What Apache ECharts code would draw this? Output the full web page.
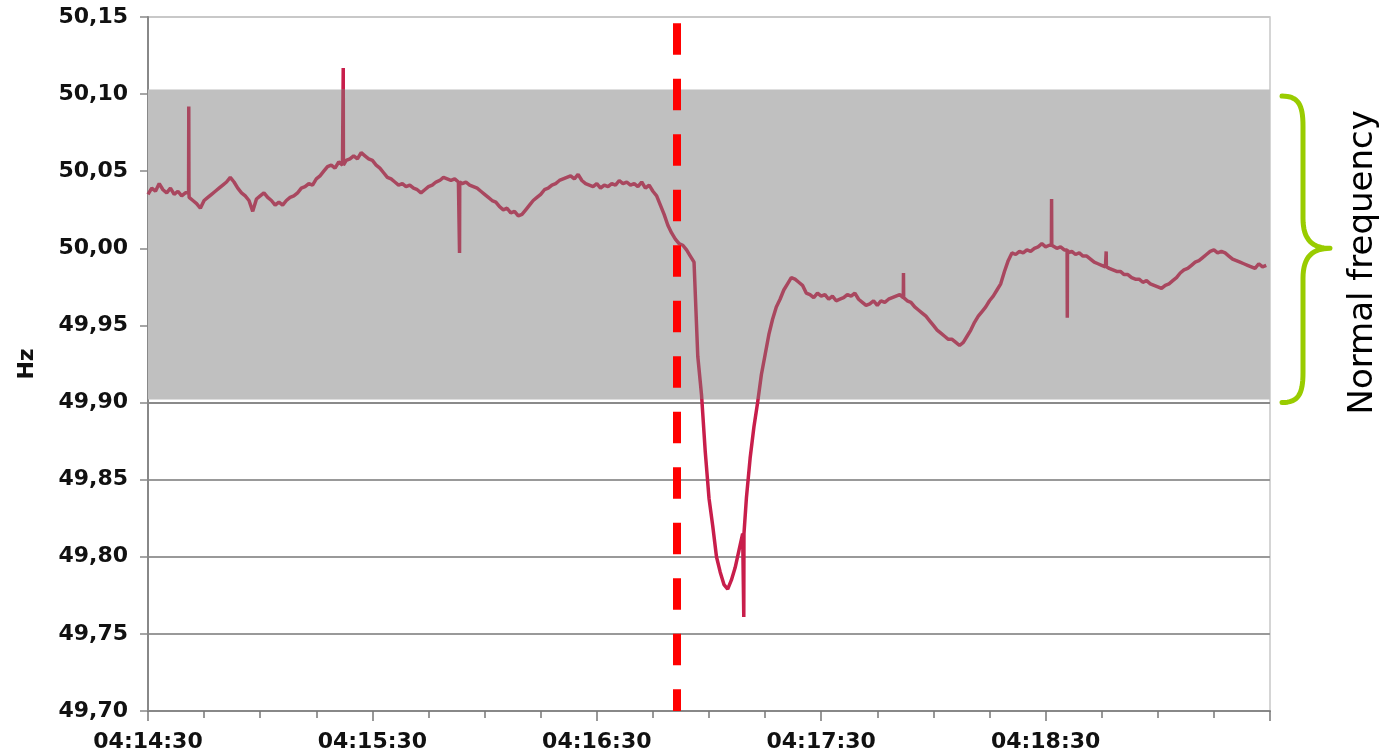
<!DOCTYPE html>
<html>
<head>
<meta charset="utf-8">
<script src="https://cdn.jsdelivr.net/npm/echarts@6/dist/echarts.min.js"></script>
<style>
html,body{margin:0;padding:0;background:#fff;}
#chart{width:1382px;height:755px;}
</style>
</head>
<body>
<div id="chart"></div>
<script>
// ---- data ----
const startTime = '04:14:30';          // time at x = 0 seconds
const axisSeconds = [0, 300, 60];      // min, max, labelled step (s)
const freqTicks = [49.70, 50.15, 0.05];// min, max, step (Hz)
const normalBand = [49.902, 50.103];   // grey "normal frequency" band
const eventTime = 141.4;               // red dashed line (s after start)
const bandLabel = 'Normal frequency';
const yName = 'Hz';

// frequency, one reading per second from 04:14:30
const freq = [
50.035,50.039,50.037,50.042,50.038,50.036,50.039,50.035,50.037,50.034,
50.036,50.033,50.031,50.029,50.026,50.031,50.033,50.035,50.037,50.039,
50.041,50.043,50.046,50.043,50.039,50.036,50.034,50.031,50.024,50.032,
50.034,50.036,50.033,50.031,50.028,50.030,50.028,50.031,50.033,50.034,
50.036,50.039,50.040,50.042,50.041,50.045,50.047,50.050,50.053,50.054,
50.052,50.056,50.054,50.057,50.058,50.060,50.058,50.062,50.060,50.058,
50.057,50.054,50.052,50.049,50.046,50.045,50.043,50.041,50.042,50.040,
50.041,50.039,50.038,50.036,50.038,50.040,50.041,50.043,50.044,50.046,
50.045,50.044,50.045,50.043,50.042,50.043,50.041,50.040,50.039,50.037,
50.035,50.033,50.031,50.030,50.027,50.025,50.026,50.023,50.024,50.021,
50.022,50.025,50.028,50.031,50.033,50.035,50.038,50.039,50.041,50.042,
50.044,50.045,50.046,50.047,50.045,50.048,50.044,50.042,50.041,50.040,
50.042,50.039,50.041,50.040,50.042,50.041,50.044,50.042,50.043,50.041,
50.042,50.040,50.043,50.039,50.041,50.037,50.034,50.028,50.022,50.015,
50.010,50.006,50.003,50.002,49.999,49.995,49.991,49.930,49.905,49.868,
49.838,49.820,49.800,49.790,49.782,49.779,49.785,49.793,49.804,49.815,
49.838,49.864,49.884,49.900,49.918,49.931,49.944,49.954,49.962,49.967,
49.973,49.977,49.981,49.980,49.978,49.976,49.971,49.970,49.968,49.971,
49.969,49.970,49.967,49.969,49.966,49.967,49.968,49.970,49.969,49.971,
49.967,49.965,49.963,49.964,49.966,49.963,49.966,49.965,49.967,49.968,
49.969,49.970,49.968,49.966,49.965,49.962,49.960,49.958,49.956,49.953,
49.950,49.947,49.945,49.943,49.941,49.941,49.939,49.937,49.939,49.943,
49.947,49.952,49.956,49.959,49.962,49.966,49.969,49.973,49.977,49.985,
49.992,49.997,49.996,49.998,49.997,49.999,49.998,50.000,50.001,50.003,
50.001,50.002,50.002,50.000,50.001,49.999,49.997,49.998,49.996,49.997,
49.995,49.995,49.993,49.991,49.990,49.989,49.988,49.987,49.986,49.985,
49.985,49.983,49.983,49.981,49.980,49.980,49.978,49.979,49.977,49.976,
49.975,49.974,49.976,49.977,49.979,49.981,49.984,49.986,49.987,49.989,
49.991,49.992,49.994,49.996,49.998,49.999,49.997,49.998,49.997,49.995,
49.993,49.992,49.991,49.990,49.989,49.988,49.987,49.990,49.988,49.989
];
// short single-reading spikes
const spikeTimes  = [10.9, 52.2, 83.3, 159.3, 202.0, 241.6, 245.8, 256.2];
const spikeValues = [50.092, 50.117, 49.997, 49.761, 49.984, 50.032, 49.955, 49.998];

// ---- build series ----
function buildPoints(){
  const pts = freq.map((v,i)=>[i,v]);
  spikeTimes.forEach((t,k)=>{
    const base = freq[Math.floor(t)];
    pts.push([t-0.05, base],[t, spikeValues[k]],[t+0.05, base]);
  });
  pts.sort((a,b)=>a[0]-b[0]);
  return pts;
}
const [h0,m0,s0] = startTime.split(':').map(Number);
const startSec = h0*3600+m0*60+s0;
function fmtTime(t){
  const s = startSec + Math.round(t);
  const p = n => String(n).padStart(2,'0');
  return p(Math.floor(s/3600))+':'+p(Math.floor(s/60)%60)+':'+p(s%60);
}

const FONT = 'DejaVu Sans';
const chart = echarts.init(document.getElementById('chart'), null, {renderer:'canvas'});
const option = {
  animation:false,
  backgroundColor:'#ffffff',
  grid:{left:148, right:112, top:17, bottom:44, show:true, borderColor:'#c8c8c8', borderWidth:1.5, backgroundColor:'#ffffff'},
  xAxis:{
    type:'value', min:axisSeconds[0], max:axisSeconds[1], interval:axisSeconds[2],
    axisLine:{lineStyle:{color:'#888',width:2}},
    axisTick:{show:true,length:10,lineStyle:{color:'#777',width:1.5}},
    minorTick:{show:true,splitNumber:4,length:7,lineStyle:{color:'#777',width:1.5}},
    splitLine:{show:false},
    axisLabel:{formatter:fmtTime, showMaxLabel:false, margin:20, fontFamily:FONT, fontWeight:'bold', fontSize:22, color:'#111'}
  },
  yAxis:{
    type:'value', min:freqTicks[0], max:freqTicks[1], interval:freqTicks[2],
    name:yName, nameLocation:'middle', nameRotate:90, nameGap:110,
    nameTextStyle:{fontFamily:FONT, fontWeight:'bold', fontSize:22, color:'#111'},
    axisLine:{show:true,lineStyle:{color:'#888',width:2}},
    axisTick:{show:true,length:8,lineStyle:{color:'#888',width:1.5}},
    splitLine:{show:true,lineStyle:{width:2,color:['#999','#999','#999','#999','#8a8a8a','#7c7c7c','#7c7c7c','#7c7c7c','#7c7c7c','#c8c8c8']}},
    axisLabel:{formatter:v=>v.toFixed(2).replace('.',','), margin:20, fontFamily:FONT, fontWeight:'bold', fontSize:22, color:'#111'}
  },
  visualMap:{
    type:'piecewise', show:false, dimension:1, seriesIndex:1,
    pieces:[
      {lt:normalBand[0], color:'#c81e4b'},
      {gte:normalBand[0], lte:normalBand[1], color:'#a9475f'},
      {gt:normalBand[1], color:'#c81e4b'}
    ]
  },
  series:[
    {
      type:'line', z:-1, silent:true, data:[[0,50],[300,50]],
      lineStyle:{opacity:0}, showSymbol:false,
      markArea:{silent:true, itemStyle:{color:'#c0c0c0'},
        data:[[{yAxis:normalBand[0]},{yAxis:normalBand[1]}]]}
    },
    {
      type:'line', data:buildPoints(), showSymbol:false, sampling:null,
      lineStyle:{width:3.5}, z:3,
      markLine:{silent:true, symbol:['none','none'], label:{show:false},
        lineStyle:{color:'#ff0000', width:8, type:[31.5,24], dashOffset:49.3},
        data:[[{coord:[eventTime, freqTicks[1]]},{coord:[eventTime, freqTicks[0]]}]]}
    }
  ]
};
chart.setOption(option);

// brace + label placed from axis values
const pT = chart.convertToPixel({xAxisIndex:0,yAxisIndex:0},[axisSeconds[1], 50.10]);
const pM = chart.convertToPixel({xAxisIndex:0,yAxisIndex:0},[axisSeconds[1], 50.00]);
const pB = chart.convertToPixel({xAxisIndex:0,yAxisIndex:0},[axisSeconds[1], 49.90]);
const xr = pT[0];
const x0 = xr+12, xs = xr+33, xt = xr+60;
const y0 = pT[1]+2, ym = pM[1], y1 = pB[1];
function cubic(a,b,c,d,pts){
  for(let i=1;i<=16;i++){
    const t=i/16, u=1-t;
    pts.push([u*u*u*a[0]+3*u*u*t*b[0]+3*u*t*t*c[0]+t*t*t*d[0],
              u*u*u*a[1]+3*u*u*t*b[1]+3*u*t*t*c[1]+t*t*t*d[1]]);
  }
}
const brace=[[x0,y0]];
cubic([x0,y0],[x0+16,y0],[xs,y0+8],[xs,y0+30],brace);
brace.push([xs,ym-30]);
cubic([xs,ym-30],[xs,ym-8],[xs+10,ym],[xt,ym],brace);
cubic([xt,ym],[xs+10,ym],[xs,ym+8],[xs,ym+30],brace);
brace.push([xs,y1-30]);
cubic([xs,y1-30],[xs,y1-8],[x0+16,y1],[x0,y1],brace);
chart.setOption({graphic:[
  {type:'polyline', silent:true, shape:{points:brace},
   style:{fill:null, stroke:'#99cc00', lineWidth:5, lineCap:'round', lineJoin:'round'}},
  {type:'text', x:xr+93, y:ym+14, rotation:Math.PI/2, silent:true,
   style:{text:bandLabel, fontFamily:FONT, fontSize:34, fill:'#000', align:'center', verticalAlign:'middle'}}
]});
</script>
</body>
</html>
